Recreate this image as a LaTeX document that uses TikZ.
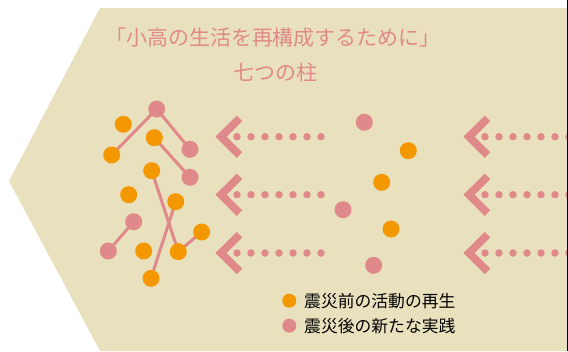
\documentclass[tikz,border=0pt]{standalone}
\usepackage{fontspec}
\newfontfamily\jp{Noto Sans CJK JP}
\definecolor{bg}{HTML}{E9E1BE}
\definecolor{pk}{HTML}{E0898A}
\definecolor{og}{HTML}{F39800}
\begin{document}
\begin{tikzpicture}[x=1pt,y=-1pt,
  dotO/.style={circle,fill=og,minimum size=17pt,inner sep=0pt},
  dotP/.style={circle,fill=pk,minimum size=17pt,inner sep=0pt},
  link/.style={draw=pk,line width=3pt},
  chev/.style={draw=pk,line width=7.8pt,miter limit=10},
  dotline/.style={draw=pk,line width=7.5pt,line cap=round,dash pattern=on 0pt off 14pt},
  titletext/.style={text=pk,font=\jp\fontsize{21}{24}\selectfont,inner sep=0pt},
  legtext/.style={text=black,font=\jp\fontsize{16.8}{18}\selectfont,inner sep=0pt,anchor=west},
]
\useasboundingbox (0,0) rectangle (568,351);
\fill[bg] (100,8) -- (568,8) -- (568,351) -- (100,351) -- (9,181) -- cycle;

% title
\node[titletext] (t1) at (273,38) {「小高の生活を再構成するために」};
\node[titletext] (t2) at (275,72) {七つの柱};

% left network links
\coordinate (P1) at (156.7,109);
\coordinate (O2) at (111.7,155);
\coordinate (O3) at (154.3,137.7);
\coordinate (P2) at (190,149.3);
\coordinate (P3) at (190,177.3);
\coordinate (O4) at (151.7,170.7);
\coordinate (O6) at (175.7,201.7);
\coordinate (P4) at (133.7,221.7);
\coordinate (O7) at (201.7,232);
\coordinate (P5) at (108.3,251);
\coordinate (O9) at (178.3,251.7);
\coordinate (O10) at (151,278.3);
\draw[link] (O2) -- (P1) -- (P2);
\draw[link] (O3) -- (P3);
\draw[link] (O4) -- (O9) -- (O7);
\draw[link] (O6) -- (O10);
\draw[link] (P4) -- (P5);

% left network nodes
\node[dotP] (nP1) at (P1) {};
\node[dotO] (nO1) at (123.3,124.3) {};
\node[dotO] (nO2) at (O2) {};
\node[dotO] (nO3) at (O3) {};
\node[dotP] (nP2) at (P2) {};
\node[dotP] (nP3) at (P3) {};
\node[dotO] (nO4) at (O4) {};
\node[dotO] (nO5) at (128.7,194.7) {};
\node[dotO] (nO6) at (O6) {};
\node[dotP] (nP4) at (P4) {};
\node[dotO] (nO7) at (O7) {};
\node[dotP] (nP5) at (P5) {};
\node[dotO] (nO8) at (143.7,251) {};
\node[dotO] (nO9) at (O9) {};
\node[dotO] (nO10) at (O10) {};

% middle scattered dots
\node[dotP] (mP1) at (364.3,122.3) {};
\node[dotO] (mO1) at (408.3,150.7) {};
\node[dotO] (mO2) at (381.7,182.3) {};
\node[dotP] (mP2) at (343,209.7) {};
\node[dotO] (mO3) at (391,229) {};
\node[dotP] (mP3) at (373.7,265.3) {};

% arrows
\foreach \yy in {136.7,194.7,253} {
  \foreach \dx in {0,248} {
    \draw[chev] (239.5+\dx,\yy-18.3) -- (221+\dx,\yy) -- (239.5+\dx,\yy+18.3);
  }
  \draw[dotline] (237,\yy) -- (322,\yy);
  \draw[dotline] (485,\yy) -- (575,\yy);
}

% legend
\node[dotO,minimum size=14pt] (lO) at (289.3,300.7) {};
\node[dotP,minimum size=14pt] (lP) at (289.3,325.7) {};
\node[legtext] (lt1) at (304,300.7) {震災前の活動の再生};
\node[legtext] (lt2) at (304,325.7) {震災後の新たな実践};

% right border line
\draw[black,line width=1.2pt] (567.4,0) -- (567.4,351);
\end{tikzpicture}
\end{document}
